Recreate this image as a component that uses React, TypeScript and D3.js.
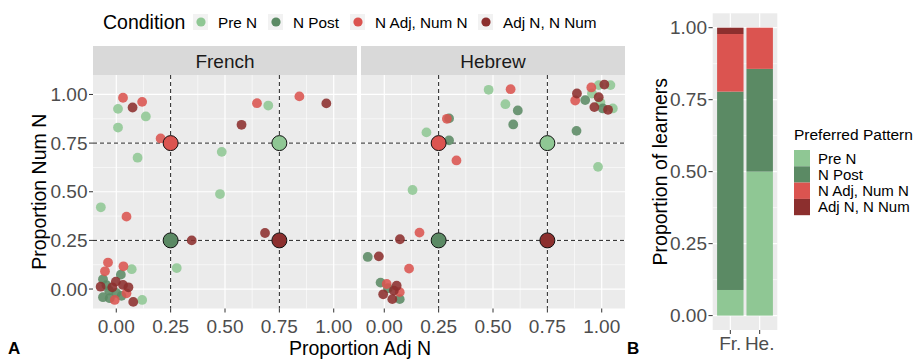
import React from "react";
import * as d3 from "d3";

type Pt = [number, number];

// Condition order and colours
const conditions = ["Pre N", "N Post", "N Adj, Num N", "Adj N, N Num"];
const colors = ["#8fc794", "#5b8a64", "#db5450", "#8c2f2e"];

// French learners: [proportion Adj N, proportion Num N]
const frenchPreN: Pt[] = [[0.008, 0.926], [0.136, 0.887], [0.008, 0.83], [0.098, 0.675], [0.699, 0.943], [0.485, 0.705], [0.477, 0.488], [-0.071, 0.42], [0.278, 0.108], [0.071, 0.102], [0.119, -0.056]];
const frenchNPost: Pt[] = [[0.021, 0.074], [-0.061, 0.05], [-0.033, -0.008], [-0.061, -0.042], [0.024, -0.035], [-0.03, -0.047], [0.0, -0.02], [-0.045, 0.02]];
const frenchNAdj: Pt[] = [[0.031, 0.983], [0.119, 0.962], [0.204, 0.774], [0.647, 0.955], [0.842, 0.99], [0.047, 0.372], [-0.038, 0.136], [-0.052, 0.091], [0.033, 0.117], [-0.007, -0.056], [0.047, -0.022]];
const frenchAdjN: Pt[] = [[0.075, 0.933], [0.966, 0.954], [0.576, 0.844], [0.347, 0.25], [0.684, 0.288], [-0.072, 0.012], [-0.018, 0.009], [-0.002, 0.038], [0.031, 0.021], [0.056, 0.009], [0.078, -0.066]];

// Hebrew learners
const hebrewPreN: Pt[] = [[0.48, 1.024], [0.557, 0.95], [0.194, 0.805], [0.13, 0.509], [0.983, 0.628], [0.986, 1.048], [1.04, 1.048], [0.955, 1.005], [0.994, 0.959], [1.051, 0.928]];
const hebrewNPost: Pt[] = [[0.614, 0.918], [0.593, 0.846], [0.298, 0.877], [0.298, 0.764], [0.884, 0.813], [0.924, 0.971], [1.005, 0.928], [-0.076, 0.165], [-0.017, 0.033], [0.071, -0.052], [0.017, 0.004]];
const hebrewNAdj: Pt[] = [[0.581, 1.027], [0.288, 0.875], [0.332, 0.661], [0.952, 1.036], [0.878, 0.969], [0.162, 0.29], [0.114, 0.105], [0.011, 0.026], [0.071, -0.016]];
const hebrewAdjN: Pt[] = [[1.012, 1.051], [0.886, 1.005], [0.986, 0.986], [0.966, 0.935], [1.029, 0.921], [0.072, 0.256], [-0.025, 0.168], [0.057, 0.017], [0.044, -0.008], [-0.005, -0.027], [0.037, -0.052]];

// Prototype positions of each condition
const prototypes: Pt[] = [[0.75, 0.75], [0.25, 0.25], [0.25, 0.75], [0.75, 0.25]];

const panels = [
  { name: "French", series: [frenchPreN, frenchNPost, frenchNAdj, frenchAdjN] },
  { name: "Hebrew", series: [hebrewPreN, hebrewNPost, hebrewNAdj, hebrewAdjN] },
];

const scatterTicks = [0, 0.25, 0.5, 0.75, 1];
const scatterMinor = [0.125, 0.375, 0.625, 0.875];

// Share of learners by preferred pattern
const languages = ["Fr.", "He."];
const frShares = [0.089, 0.689, 0.2, 0.022];
const heShares = [0.5, 0.357, 0.143, 0];
const barTicks = [0, 0.25, 0.5, 0.75, 1];

const FONT = "'Liberation Sans', Arial, Helvetica, sans-serif";
const PANEL_BG = "#ebebeb";
const TEXT = "#4d4d4d";
const TICK_SIZE = 19;
const TITLE_SIZE = 19.5;

export default function App() {
  const panelTop = 75;
  const panelBottom = 308.5;
  const panelW = 264;
  const panelLefts = [93, 361];
  const y = d3.scaleLinear().domain([-0.1, 1.1]).range([panelBottom, panelTop]);

  // bar chart scales
  const barY = d3.scaleLinear().domain([-0.05, 1.05]).range([330, 13.3]);
  const barX = d3.scalePoint<string>().domain(languages).range([712.7, 777.3]).padding(0.6);
  const step = barX.step();
  const barW = step * 0.9;
  const stacks = [frShares, heShares].map((shares) => {
    let acc = 0;
    return shares.map((s) => {
      const y0 = acc;
      acc += s;
      return [y0, acc];
    });
  });

  return (
    <svg width={914} height={359} style={{ display: "block", position: "absolute", left: 0, top: 0 }} fontFamily={FONT}>
      <rect width={914} height={359} fill="#fff" />

      {/* top legend */}
      <g>
        <text x={103} y={29} fontSize={TITLE_SIZE} fill="#000">Condition</text>
        {conditions.map((c, i) => {
          const kx = [193, 268, 350, 478][i];
          return (
            <g key={c}>
              <rect x={kx} y={14} width={15} height={16} fill="#f2f2f2" />
              <circle cx={kx + 8} cy={22} r={4.6} fill={colors[i]} />
              <text x={kx + 25} y={27.5} fontSize={15.3} fill="#000">{c}</text>
            </g>
          );
        })}
      </g>

      {/* scatter panels */}
      {panels.map((p, pi) => {
        const left = panelLefts[pi];
        const x = d3.scaleLinear().domain([-0.107, 1.107]).range([left, left + panelW]);
        return (
          <g key={p.name}>
            <rect x={left} y={46} width={panelW} height={panelTop - 46} fill="#d9d9d9" />
            <text x={left + panelW / 2} y={67.5} fontSize={TICK_SIZE} textAnchor="middle" fill="#1a1a1a">{p.name}</text>
            <rect x={left} y={panelTop} width={panelW} height={panelBottom - panelTop} fill={PANEL_BG} />
            {scatterMinor.map((t) => (
              <g key={"m" + t}>
                <line x1={x(t)} x2={x(t)} y1={panelTop} y2={panelBottom} stroke="#fff" strokeWidth={0.6} />
                <line x1={left} x2={left + panelW} y1={y(t)} y2={y(t)} stroke="#fff" strokeWidth={0.6} />
              </g>
            ))}
            {scatterTicks.map((t) => (
              <g key={"M" + t}>
                <line x1={x(t)} x2={x(t)} y1={panelTop} y2={panelBottom} stroke="#fff" strokeWidth={1.2} />
                <line x1={left} x2={left + panelW} y1={y(t)} y2={y(t)} stroke="#fff" strokeWidth={1.2} />
              </g>
            ))}
            {[0.25, 0.75].map((t) => (
              <g key={"d" + t}>
                <line x1={x(t)} x2={x(t)} y1={panelTop} y2={panelBottom} stroke="#222" strokeWidth={1} strokeDasharray="4,3" />
                <line x1={left} x2={left + panelW} y1={y(t)} y2={y(t)} stroke="#222" strokeWidth={1} strokeDasharray="4,3" />
              </g>
            ))}
            {p.series.map((pts, si) =>
              pts.map((d, k) => (
                <circle key={si + "-" + k} cx={x(d[0])} cy={y(d[1])} r={4.9} fill={colors[si]} fillOpacity={0.88} />
              ))
            )}
            {prototypes.map((d, i) => (
              <circle key={"p" + i} cx={x(d[0])} cy={y(d[1])} r={7.5} fill={colors[i]} stroke="#111" strokeWidth={1} />
            ))}
            {/* x axis */}
            {scatterTicks.map((t) => (
              <g key={"xt" + t}>
                <line x1={x(t)} x2={x(t)} y1={panelBottom} y2={panelBottom + 4} stroke="#333" strokeWidth={1} />
                <text x={x(t)} y={333} fontSize={TICK_SIZE} textAnchor="middle" fill={TEXT}>{d3.format(".2f")(t)}</text>
              </g>
            ))}
          </g>
        );
      })}

      {/* y axis of scatter */}
      {scatterTicks.map((t) => (
        <g key={"yt" + t}>
          <line x1={89} x2={93} y1={y(t)} y2={y(t)} stroke="#333" strokeWidth={1} />
          <text x={87.5} y={y(t) + 6.5} fontSize={TICK_SIZE} textAnchor="end" fill={TEXT}>{d3.format(".2f")(t)}</text>
        </g>
      ))}
      <text transform={`translate(46,${(panelTop + panelBottom) / 2}) rotate(-90)`} fontSize={TITLE_SIZE} textAnchor="middle" fill="#000">Proportion Num N</text>
      <text x={360} y={355} fontSize={TITLE_SIZE} textAnchor="middle" fill="#000">Proportion Adj N</text>
      <text x={8} y={354} fontSize={17} fontWeight="bold" fill="#000">A</text>
      <text x={627} y={354} fontSize={17} fontWeight="bold" fill="#000">B</text>

      {/* stacked bars */}
      <g>
        <rect x={712.7} y={13.3} width={64.6} height={330 - 13.3} fill={PANEL_BG} />
        {[0.125, 0.375, 0.625, 0.875].map((t) => (
          <line key={"bm" + t} x1={712.7} x2={777.3} y1={barY(t)} y2={barY(t)} stroke="#fff" strokeWidth={0.6} />
        ))}
        {barTicks.map((t) => (
          <line key={"bM" + t} x1={712.7} x2={777.3} y1={barY(t)} y2={barY(t)} stroke="#fff" strokeWidth={1.2} />
        ))}
        {languages.map((l) => (
          <line key={"bv" + l} x1={barX(l)!} x2={barX(l)!} y1={13.3} y2={330} stroke="#fff" strokeWidth={1.2} />
        ))}
        {languages.map((l, li) =>
          stacks[li].map(([y0, y1], ci) =>
            y1 - y0 > 0 ? (
              <rect key={l + ci} x={barX(l)! - barW / 2} y={barY(y1)} width={barW} height={barY(y0) - barY(y1)} fill={colors[ci]} />
            ) : null
          )
        )}
        {barTicks.map((t) => (
          <g key={"byt" + t}>
            <line x1={708.5} x2={712.7} y1={barY(t)} y2={barY(t)} stroke="#333" strokeWidth={1} />
            <text x={707} y={barY(t) + 6.5} fontSize={TICK_SIZE} textAnchor="end" fill={TEXT}>{d3.format(".2f")(t)}</text>
          </g>
        ))}
        {languages.map((l) => (
          <g key={"bxt" + l}>
            <line x1={barX(l)!} x2={barX(l)!} y1={330} y2={334} stroke="#333" strokeWidth={1} />
            <text x={barX(l)!} y={350} fontSize={TICK_SIZE} textAnchor="middle" fill={TEXT}>{l}</text>
          </g>
        ))}
        <text transform={`translate(667,${(13.3 + 330) / 2}) rotate(-90)`} fontSize={TITLE_SIZE} textAnchor="middle" fill="#000">Proportion of learners</text>
      </g>

      {/* pattern legend */}
      <g>
        <text x={794} y={140} fontSize={15.5} fill="#000">Preferred Pattern</text>
        {conditions.map((c, i) => (
          <g key={"lg" + c}>
            <rect x={794} y={150 + i * 16.3} width={16} height={16.3} fill={colors[i]} />
            <text x={818} y={150 + i * 16.3 + 13.5} fontSize={15} fill="#000">{c}</text>
          </g>
        ))}
      </g>
    </svg>
  );
}
